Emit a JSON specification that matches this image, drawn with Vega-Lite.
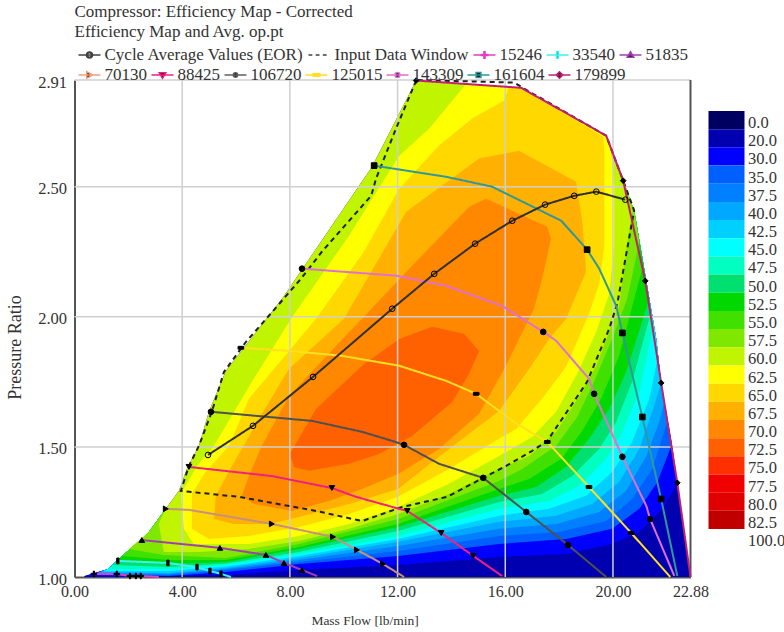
{"$schema":"https://vega.github.io/schema/vega-lite/v6.json","padding":{"left":6.5,"top":3,"right":0,"bottom":0},"background":"white","config":{"font":"Liberation Serif","view":{"stroke":null},"title":{"font":"Liberation Serif"}},"spacing":-7,"resolve":{"scale":{"color":"independent"}},
"datasets":{"c":[
{"l":20,"x":0.35,"y":1},{"l":20,"x":22.88,"y":1},{"l":20,"x":22.2,"y":1.504},{"l":20,"x":21.79,"y":1.746},{"l":20,"x":21.61,"y":1.915},{"l":20,"x":21.24,"y":2.138},{"l":20,"x":20.79,"y":2.408},{"l":20,"x":20.38,"y":2.523},{"l":20,"x":19.97,"y":2.62},{"l":20,"x":19.75,"y":2.696},{"l":20,"x":16.59,"y":2.88},{"l":20,"x":12.69,"y":2.908},{"l":20,"x":11.05,"y":2.577},{"l":20,"x":7.71,"y":2.069},{"l":20,"x":5.62,"y":1.792},{"l":20,"x":4.99,"y":1.635},{"l":20,"x":4.62,"y":1.504},{"l":20,"x":4.17,"y":1.415},{"l":20,"x":3.88,"y":1.331},{"l":20,"x":3.39,"y":1.262},{"l":20,"x":2.76,"y":1.173},{"l":20,"x":2.5,"y":1.146},{"l":20,"x":1.76,"y":1.081},{"l":20,"x":1.24,"y":1.031},{"l":20,"x":0.38,"y":1.004},
{"l":30,"x":1.65,"y":1},{"l":30,"x":5.62,"y":1.008},{"l":30,"x":8.34,"y":1.027},{"l":30,"x":12.02,"y":1.046},{"l":30,"x":15.77,"y":1.077},{"l":30,"x":18.26,"y":1.088},{"l":30,"x":19.97,"y":1.127},{"l":30,"x":20.98,"y":1.173},{"l":30,"x":21.83,"y":1.262},{"l":30,"x":22.39,"y":1.358},{"l":30,"x":22.2,"y":1.504},{"l":30,"x":21.79,"y":1.746},{"l":30,"x":21.61,"y":1.915},{"l":30,"x":21.24,"y":2.138},{"l":30,"x":20.79,"y":2.408},{"l":30,"x":20.38,"y":2.523},{"l":30,"x":15.77,"y":2.454},{"l":30,"x":4.62,"y":1.3},{"l":30,"x":3.39,"y":1.262},{"l":30,"x":2.76,"y":1.173},{"l":30,"x":2.5,"y":1.146},{"l":30,"x":1.76,"y":1.081},{"l":30,"x":1.24,"y":1.031},{"l":30,"x":0.38,"y":1.004},
{"l":35,"x":0.61,"y":1.008},{"l":35,"x":3.51,"y":1.004},{"l":35,"x":5.62,"y":1.019},{"l":35,"x":8.34,"y":1.05},{"l":35,"x":12.02,"y":1.081},{"l":35,"x":15.77,"y":1.127},{"l":35,"x":18.26,"y":1.146},{"l":35,"x":19.97,"y":1.185},{"l":35,"x":20.98,"y":1.262},{"l":35,"x":21.65,"y":1.365},{"l":35,"x":22.17,"y":1.504},{"l":35,"x":21.79,"y":1.746},{"l":35,"x":21.61,"y":1.915},{"l":35,"x":21.24,"y":2.138},{"l":35,"x":20.79,"y":2.408},{"l":35,"x":20.38,"y":2.523},{"l":35,"x":15.77,"y":2.454},{"l":35,"x":4.62,"y":1.3},{"l":35,"x":3.39,"y":1.262},{"l":35,"x":2.76,"y":1.173},{"l":35,"x":2.5,"y":1.146},{"l":35,"x":1.76,"y":1.081},{"l":35,"x":1.24,"y":1.031},
{"l":37.5,"x":0.75,"y":1.012},{"l":37.5,"x":3.51,"y":1.008},{"l":37.5,"x":5.62,"y":1.027},{"l":37.5,"x":8.34,"y":1.058},{"l":37.5,"x":12.02,"y":1.1},{"l":37.5,"x":15.77,"y":1.158},{"l":37.5,"x":18.0,"y":1.173},{"l":37.5,"x":19.75,"y":1.215},{"l":37.5,"x":20.71,"y":1.3},{"l":37.5,"x":21.46,"y":1.415},{"l":37.5,"x":22.02,"y":1.596},{"l":37.5,"x":21.79,"y":1.746},{"l":37.5,"x":21.61,"y":1.915},{"l":37.5,"x":21.24,"y":2.138},{"l":37.5,"x":20.79,"y":2.408},{"l":37.5,"x":20.38,"y":2.523},{"l":37.5,"x":15.77,"y":2.454},{"l":37.5,"x":4.62,"y":1.3},{"l":37.5,"x":3.39,"y":1.262},{"l":37.5,"x":2.76,"y":1.173},{"l":37.5,"x":2.5,"y":1.146},{"l":37.5,"x":1.76,"y":1.081},{"l":37.5,"x":1.24,"y":1.031},
{"l":40,"x":0.87,"y":1.015},{"l":40,"x":3.51,"y":1.012},{"l":40,"x":5.62,"y":1.031},{"l":40,"x":8.34,"y":1.065},{"l":40,"x":12.02,"y":1.119},{"l":40,"x":15.77,"y":1.185},{"l":40,"x":17.89,"y":1.204},{"l":40,"x":19.49,"y":1.25},{"l":40,"x":20.49,"y":1.331},{"l":40,"x":21.24,"y":1.465},{"l":40,"x":21.72,"y":1.596},{"l":40,"x":21.91,"y":1.673},{"l":40,"x":21.79,"y":1.746},{"l":40,"x":21.61,"y":1.915},{"l":40,"x":21.24,"y":2.138},{"l":40,"x":20.79,"y":2.408},{"l":40,"x":20.38,"y":2.523},{"l":40,"x":15.77,"y":2.454},{"l":40,"x":4.62,"y":1.3},{"l":40,"x":3.39,"y":1.262},{"l":40,"x":2.76,"y":1.173},{"l":40,"x":2.5,"y":1.146},{"l":40,"x":1.76,"y":1.081},{"l":40,"x":1.24,"y":1.031},
{"l":42.5,"x":0.98,"y":1.019},{"l":42.5,"x":3.51,"y":1.015},{"l":42.5,"x":5.62,"y":1.035},{"l":42.5,"x":8.34,"y":1.073},{"l":42.5,"x":12.02,"y":1.135},{"l":42.5,"x":15.77,"y":1.212},{"l":42.5,"x":17.89,"y":1.235},{"l":42.5,"x":19.23,"y":1.281},{"l":42.5,"x":20.23,"y":1.365},{"l":42.5,"x":20.98,"y":1.492},{"l":42.5,"x":21.53,"y":1.658},{"l":42.5,"x":21.79,"y":1.746},{"l":42.5,"x":21.61,"y":1.915},{"l":42.5,"x":21.24,"y":2.138},{"l":42.5,"x":20.79,"y":2.408},{"l":42.5,"x":20.38,"y":2.523},{"l":42.5,"x":15.77,"y":2.454},{"l":42.5,"x":4.62,"y":1.3},{"l":42.5,"x":3.39,"y":1.262},{"l":42.5,"x":2.76,"y":1.173},{"l":42.5,"x":2.5,"y":1.146},{"l":42.5,"x":1.76,"y":1.081},{"l":42.5,"x":1.24,"y":1.031},
{"l":45,"x":1.09,"y":1.023},{"l":45,"x":3.51,"y":1.023},{"l":45,"x":5.62,"y":1.04},{"l":45,"x":8.34,"y":1.081},{"l":45,"x":12.02,"y":1.146},{"l":45,"x":15.77,"y":1.235},{"l":45,"x":17.63,"y":1.262},{"l":45,"x":19.0,"y":1.312},{"l":45,"x":19.97,"y":1.404},{"l":45,"x":20.71,"y":1.519},{"l":45,"x":21.35,"y":1.685},{"l":45,"x":21.68,"y":1.85},{"l":45,"x":21.61,"y":1.915},{"l":45,"x":21.24,"y":2.138},{"l":45,"x":20.79,"y":2.408},{"l":45,"x":20.38,"y":2.523},{"l":45,"x":15.77,"y":2.454},{"l":45,"x":4.62,"y":1.3},{"l":45,"x":3.39,"y":1.262},{"l":45,"x":2.76,"y":1.173},{"l":45,"x":2.5,"y":1.146},{"l":45,"x":1.76,"y":1.081},{"l":45,"x":1.24,"y":1.031},
{"l":47.5,"x":1.28,"y":1.031},{"l":47.5,"x":3.51,"y":1.031},{"l":47.5,"x":5.62,"y":1.046},{"l":47.5,"x":8.34,"y":1.088},{"l":47.5,"x":12.02,"y":1.158},{"l":47.5,"x":15.77,"y":1.262},{"l":47.5,"x":17.63,"y":1.292},{"l":47.5,"x":18.75,"y":1.35},{"l":47.5,"x":19.75,"y":1.454},{"l":47.5,"x":20.35,"y":1.558},{"l":47.5,"x":20.98,"y":1.712},{"l":47.5,"x":21.5,"y":1.965},{"l":47.5,"x":21.24,"y":2.138},{"l":47.5,"x":20.79,"y":2.408},{"l":47.5,"x":20.38,"y":2.523},{"l":47.5,"x":15.77,"y":2.454},{"l":47.5,"x":4.62,"y":1.3},{"l":47.5,"x":3.39,"y":1.262},{"l":47.5,"x":2.76,"y":1.173},{"l":47.5,"x":2.5,"y":1.146},{"l":47.5,"x":1.76,"y":1.081},
{"l":50,"x":1.42,"y":1.046},{"l":50,"x":3.51,"y":1.038},{"l":50,"x":5.62,"y":1.052},{"l":50,"x":8.34,"y":1.096},{"l":50,"x":12.02,"y":1.177},{"l":50,"x":15.77,"y":1.288},{"l":50,"x":17.37,"y":1.319},{"l":50,"x":18.49,"y":1.388},{"l":50,"x":19.49,"y":1.492},{"l":50,"x":20.12,"y":1.596},{"l":50,"x":20.71,"y":1.75},{"l":50,"x":21.42,"y":2.019},{"l":50,"x":21.24,"y":2.138},{"l":50,"x":20.79,"y":2.408},{"l":50,"x":20.38,"y":2.523},{"l":50,"x":15.77,"y":2.454},{"l":50,"x":4.62,"y":1.3},{"l":50,"x":3.39,"y":1.262},{"l":50,"x":2.76,"y":1.173},{"l":50,"x":2.5,"y":1.146},{"l":50,"x":1.76,"y":1.081},
{"l":52.5,"x":1.57,"y":1.062},{"l":52.5,"x":3.51,"y":1.05},{"l":52.5,"x":5.62,"y":1.058},{"l":52.5,"x":8.34,"y":1.108},{"l":52.5,"x":12.02,"y":1.192},{"l":52.5,"x":15.77,"y":1.312},{"l":52.5,"x":17.15,"y":1.346},{"l":52.5,"x":18.26,"y":1.423},{"l":52.5,"x":19.11,"y":1.531},{"l":52.5,"x":19.86,"y":1.646},{"l":52.5,"x":20.49,"y":1.788},{"l":52.5,"x":21.35,"y":2.069},{"l":52.5,"x":21.24,"y":2.138},{"l":52.5,"x":20.79,"y":2.408},{"l":52.5,"x":20.38,"y":2.523},{"l":52.5,"x":15.77,"y":2.454},{"l":52.5,"x":4.62,"y":1.3},{"l":52.5,"x":3.39,"y":1.262},{"l":52.5,"x":2.76,"y":1.173},{"l":52.5,"x":2.5,"y":1.146},
{"l":55,"x":1.76,"y":1.081},{"l":55,"x":3.51,"y":1.065},{"l":55,"x":5.62,"y":1.065},{"l":55,"x":8.34,"y":1.115},{"l":55,"x":12.02,"y":1.204},{"l":55,"x":15.77,"y":1.338},{"l":55,"x":16.89,"y":1.377},{"l":55,"x":18.08,"y":1.454},{"l":55,"x":18.86,"y":1.562},{"l":55,"x":19.56,"y":1.685},{"l":55,"x":20.23,"y":1.85},{"l":55,"x":20.79,"y":2.069},{"l":55,"x":21.09,"y":2.185},{"l":55,"x":20.79,"y":2.408},{"l":55,"x":20.38,"y":2.523},{"l":55,"x":15.77,"y":2.454},{"l":55,"x":4.62,"y":1.3},{"l":55,"x":3.39,"y":1.262},{"l":55,"x":2.76,"y":1.173},{"l":55,"x":2.5,"y":1.146},
{"l":57.5,"x":2.02,"y":1.108},{"l":57.5,"x":3.32,"y":1.085},{"l":57.5,"x":5.62,"y":1.073},{"l":57.5,"x":8.34,"y":1.127},{"l":57.5,"x":12.02,"y":1.223},{"l":57.5,"x":15.77,"y":1.369},{"l":57.5,"x":16.63,"y":1.415},{"l":57.5,"x":17.89,"y":1.504},{"l":57.5,"x":18.67,"y":1.615},{"l":57.5,"x":19.23,"y":1.735},{"l":57.5,"x":19.97,"y":1.915},{"l":57.5,"x":20.53,"y":2.069},{"l":57.5,"x":20.98,"y":2.288},{"l":57.5,"x":20.79,"y":2.408},{"l":57.5,"x":20.38,"y":2.523},{"l":57.5,"x":15.77,"y":2.454},{"l":57.5,"x":4.62,"y":1.3},{"l":57.5,"x":3.39,"y":1.262},{"l":57.5,"x":2.76,"y":1.173},
{"l":60,"x":3.13,"y":1.204},{"l":60,"x":3.32,"y":1.096},{"l":60,"x":4.62,"y":1.096},{"l":60,"x":6.48,"y":1.108},{"l":60,"x":8.34,"y":1.138},{"l":60,"x":10.2,"y":1.185},{"l":60,"x":12.02,"y":1.242},{"l":60,"x":13.91,"y":1.319},{"l":60,"x":15.77,"y":1.415},{"l":60,"x":16.89,"y":1.465},{"l":60,"x":17.89,"y":1.558},{"l":60,"x":18.75,"y":1.696},{"l":60,"x":19.38,"y":1.812},{"l":60,"x":19.86,"y":1.942},{"l":60,"x":20.23,"y":2.042},{"l":60,"x":20.49,"y":2.25},{"l":60,"x":20.71,"y":2.404},{"l":60,"x":20.38,"y":2.523},{"l":60,"x":19.97,"y":2.62},{"l":60,"x":19.75,"y":2.696},{"l":60,"x":16.59,"y":2.88},{"l":60,"x":12.69,"y":2.908},{"l":60,"x":11.05,"y":2.577},{"l":60,"x":7.71,"y":2.069},{"l":60,"x":5.62,"y":1.792},{"l":60,"x":4.99,"y":1.635},{"l":60,"x":4.62,"y":1.504},{"l":60,"x":4.17,"y":1.415},{"l":60,"x":3.88,"y":1.331},{"l":60,"x":3.39,"y":1.262},
{"l":62.5,"x":3.95,"y":1.319},{"l":62.5,"x":4.06,"y":1.185},{"l":62.5,"x":4.43,"y":1.127},{"l":62.5,"x":6.48,"y":1.127},{"l":62.5,"x":8.34,"y":1.158},{"l":62.5,"x":10.2,"y":1.204},{"l":62.5,"x":12.02,"y":1.269},{"l":62.5,"x":13.91,"y":1.358},{"l":62.5,"x":15.77,"y":1.465},{"l":62.5,"x":17.0,"y":1.538},{"l":62.5,"x":17.89,"y":1.635},{"l":62.5,"x":18.67,"y":1.781},{"l":62.5,"x":19.38,"y":1.942},{"l":62.5,"x":19.86,"y":2.088},{"l":62.5,"x":20.05,"y":2.273},{"l":62.5,"x":20.05,"y":2.504},{"l":62.5,"x":19.93,"y":2.635},{"l":62.5,"x":19.86,"y":2.665},{"l":62.5,"x":19.75,"y":2.696},{"l":62.5,"x":16.59,"y":2.88},{"l":62.5,"x":14.55,"y":2.896},{"l":62.5,"x":13.17,"y":2.723},{"l":62.5,"x":12.06,"y":2.619},{"l":62.5,"x":10.2,"y":2.312},{"l":62.5,"x":8.04,"y":1.992},{"l":62.5,"x":6.59,"y":1.75},{"l":62.5,"x":5.18,"y":1.504},{"l":62.5,"x":4.55,"y":1.427},
{"l":65,"x":4.36,"y":1.319},{"l":65,"x":4.36,"y":1.185},{"l":65,"x":4.99,"y":1.146},{"l":65,"x":6.48,"y":1.158},{"l":65,"x":8.34,"y":1.192},{"l":65,"x":10.2,"y":1.242},{"l":65,"x":12.02,"y":1.308},{"l":65,"x":13.91,"y":1.415},{"l":65,"x":15.77,"y":1.531},{"l":65,"x":16.4,"y":1.569},{"l":65,"x":17.37,"y":1.685},{"l":65,"x":18.26,"y":1.808},{"l":65,"x":19.11,"y":2.012},{"l":65,"x":19.49,"y":2.127},{"l":65,"x":19.68,"y":2.273},{"l":65,"x":19.68,"y":2.635},{"l":65,"x":19.64,"y":2.692},{"l":65,"x":16.59,"y":2.88},{"l":65,"x":16.14,"y":2.885},{"l":65,"x":15.96,"y":2.831},{"l":65,"x":14.77,"y":2.762},{"l":65,"x":13.54,"y":2.658},{"l":65,"x":12.06,"y":2.492},{"l":65,"x":10.75,"y":2.25},{"l":65,"x":8.97,"y":1.992},{"l":65,"x":7.97,"y":1.869},{"l":65,"x":6.48,"y":1.685},{"l":65,"x":5.74,"y":1.504},{"l":65,"x":4.81,"y":1.396},
{"l":67.5,"x":5.25,"y":1.312},{"l":67.5,"x":5.18,"y":1.223},{"l":67.5,"x":5.92,"y":1.204},{"l":67.5,"x":7.22,"y":1.204},{"l":67.5,"x":8.34,"y":1.231},{"l":67.5,"x":10.2,"y":1.281},{"l":67.5,"x":12.02,"y":1.338},{"l":67.5,"x":13.91,"y":1.492},{"l":67.5,"x":15.77,"y":1.638},{"l":67.5,"x":16.89,"y":1.8},{"l":67.5,"x":17.63,"y":1.915},{"l":67.5,"x":18.26,"y":1.992},{"l":67.5,"x":19.0,"y":2.173},{"l":67.5,"x":18.86,"y":2.365},{"l":67.5,"x":18.63,"y":2.519},{"l":67.5,"x":16.51,"y":2.638},{"l":67.5,"x":15.03,"y":2.608},{"l":67.5,"x":12.32,"y":2.404},{"l":67.5,"x":10.01,"y":1.992},{"l":67.5,"x":7.97,"y":1.8},{"l":67.5,"x":6.85,"y":1.608},{"l":67.5,"x":5.85,"y":1.427},
{"l":70,"x":6.22,"y":1.312},{"l":70,"x":6.67,"y":1.281},{"l":70,"x":8.08,"y":1.254},{"l":70,"x":9.45,"y":1.292},{"l":70,"x":10.68,"y":1.338},{"l":70,"x":12.02,"y":1.396},{"l":70,"x":13.54,"y":1.492},{"l":70,"x":15.03,"y":1.627},{"l":70,"x":16.03,"y":1.812},{"l":70,"x":16.51,"y":1.915},{"l":70,"x":17.07,"y":2.031},{"l":70,"x":17.37,"y":2.146},{"l":70,"x":17.7,"y":2.3},{"l":70,"x":17.56,"y":2.346},{"l":70,"x":15.29,"y":2.454},{"l":70,"x":14.66,"y":2.423},{"l":70,"x":12.54,"y":2.196},{"l":70,"x":10.68,"y":1.992},{"l":70,"x":10.2,"y":1.942},{"l":70,"x":7.97,"y":1.696},{"l":70,"x":6.96,"y":1.504},{"l":70,"x":6.48,"y":1.388},
{"l":72.5,"x":8.0,"y":1.473},{"l":72.5,"x":8.97,"y":1.646},{"l":72.5,"x":10.68,"y":1.812},{"l":72.5,"x":12.06,"y":1.915},{"l":72.5,"x":13.28,"y":1.962},{"l":72.5,"x":14.47,"y":1.935},{"l":72.5,"x":15.03,"y":1.869},{"l":72.5,"x":14.66,"y":1.781},{"l":72.5,"x":14.03,"y":1.673},{"l":72.5,"x":12.54,"y":1.542},{"l":72.5,"x":11.31,"y":1.473},{"l":72.5,"x":10.2,"y":1.435},{"l":72.5,"x":8.71,"y":1.408},{"l":72.5,"x":8.15,"y":1.423}
],"s":[
{"s":"Input Data Window","x":12.69,"y":2.908,"m":0},{"s":"Input Data Window","x":11.94,"y":2.723,"m":0},{"s":"Input Data Window","x":11.2,"y":2.531,"m":0},{"s":"Input Data Window","x":11.02,"y":2.465,"m":0},{"s":"Input Data Window","x":9.19,"y":2.25,"m":0},{"s":"Input Data Window","x":8.41,"y":2.146,"m":0},{"s":"Input Data Window","x":7.22,"y":2.004,"m":0},{"s":"Input Data Window","x":6.37,"y":1.904,"m":0},{"s":"Input Data Window","x":5.55,"y":1.788,"m":0},{"s":"Input Data Window","x":5.1,"y":1.635,"m":0},{"s":"Input Data Window","x":4.62,"y":1.504,"m":0},{"s":"Input Data Window","x":4.25,"y":1.427,"m":0},{"s":"Input Data Window","x":3.95,"y":1.331,"m":0},{"s":"Input Data Window","x":6.11,"y":1.308,"m":0},{"s":"Input Data Window","x":8.97,"y":1.254,"m":0},{"s":"Input Data Window","x":10.68,"y":1.215,"m":0},{"s":"Input Data Window","x":12.17,"y":1.269,"m":0},{"s":"Input Data Window","x":13.84,"y":1.308,"m":0},{"s":"Input Data Window","x":15.18,"y":1.381,"m":0},{"s":"Input Data Window","x":15.96,"y":1.423,"m":0},{"s":"Input Data Window","x":17.0,"y":1.485,"m":0},{"s":"Input Data Window","x":17.56,"y":1.523,"m":0},{"s":"Input Data Window","x":19.04,"y":1.75,"m":0},{"s":"Input Data Window","x":19.86,"y":1.954,"m":0},{"s":"Input Data Window","x":20.16,"y":2.05,"m":0},{"s":"Input Data Window","x":20.71,"y":2.365,"m":0},{"s":"Input Data Window","x":20.79,"y":2.408,"m":0},{"s":"Input Data Window","x":20.38,"y":2.523,"m":0},{"s":"Input Data Window","x":19.75,"y":2.696,"m":0},{"s":"Input Data Window","x":16.7,"y":2.877,"m":0},{"s":"Input Data Window","x":16.33,"y":2.9,"m":0},{"s":"Input Data Window","x":12.69,"y":2.91,"m":0},
{"s":"15246","x":0.72,"y":1.012,"m":1},{"s":"15246","x":1.57,"y":1.012,"m":1},{"s":"15246","x":2.06,"y":1.004,"m":1},{"s":"15246","x":2.28,"y":1.004,"m":1},{"s":"15246","x":2.46,"y":1.004,"m":1},{"s":"15246","x":3.13,"y":1,"m":0},
{"s":"33540","x":1.61,"y":1.062,"m":1},{"s":"33540","x":3.47,"y":1.054,"m":1},{"s":"33540","x":4.55,"y":1.038,"m":1},{"s":"33540","x":5.03,"y":1.023,"m":1},{"s":"33540","x":5.44,"y":1.012,"m":1},{"s":"33540","x":5.81,"y":1,"m":0},
{"s":"51835","x":2.5,"y":1.142,"m":1},{"s":"51835","x":5.4,"y":1.112,"m":1},{"s":"51835","x":7.11,"y":1.085,"m":1},{"s":"51835","x":7.78,"y":1.054,"m":1},{"s":"51835","x":8.45,"y":1.027,"m":1},{"s":"51835","x":9.01,"y":1.004,"m":0},
{"s":"70130","x":3.39,"y":1.262,"m":1},{"s":"70130","x":4.25,"y":1.258,"m":0},{"s":"70130","x":7.33,"y":1.204,"m":1},{"s":"70130","x":9.6,"y":1.154,"m":1},{"s":"70130","x":10.49,"y":1.104,"m":1},{"s":"70130","x":11.46,"y":1.05,"m":1},{"s":"70130","x":12.24,"y":1,"m":0},
{"s":"88425","x":4.25,"y":1.423,"m":1},{"s":"88425","x":7.33,"y":1.388,"m":0},{"s":"88425","x":9.56,"y":1.342,"m":1},{"s":"88425","x":10.46,"y":1.308,"m":0},{"s":"88425","x":12.06,"y":1.262,"m":0},{"s":"88425","x":12.36,"y":1.254,"m":1},{"s":"88425","x":13.62,"y":1.169,"m":1},{"s":"88425","x":14.81,"y":1.081,"m":1},{"s":"88425","x":15.88,"y":1.004,"m":0},
{"s":"106720","x":5.07,"y":1.635,"m":1},{"s":"106720","x":8.82,"y":1.6,"m":0},{"s":"106720","x":10.68,"y":1.558,"m":0},{"s":"106720","x":11.8,"y":1.523,"m":0},{"s":"106720","x":12.24,"y":1.508,"m":1},{"s":"106720","x":13.54,"y":1.435,"m":0},{"s":"106720","x":15.18,"y":1.381,"m":1},{"s":"106720","x":16.78,"y":1.25,"m":1},{"s":"106720","x":18.33,"y":1.123,"m":1},{"s":"106720","x":19.75,"y":1,"m":0},
{"s":"125015","x":6.18,"y":1.881,"m":1},{"s":"125015","x":7.97,"y":1.869,"m":0},{"s":"125015","x":9.93,"y":1.85,"m":0},{"s":"125015","x":12.06,"y":1.812,"m":0},{"s":"125015","x":13.8,"y":1.754,"m":0},{"s":"125015","x":14.92,"y":1.704,"m":1},{"s":"125015","x":15.51,"y":1.658,"m":0},{"s":"125015","x":16.44,"y":1.588,"m":0},{"s":"125015","x":17.56,"y":1.519,"m":1},{"s":"125015","x":19.11,"y":1.346,"m":1},{"s":"125015","x":20.68,"y":1.169,"m":1},{"s":"125015","x":22.13,"y":1,"m":0},
{"s":"143309","x":8.45,"y":2.185,"m":1},{"s":"143309","x":11.94,"y":2.158,"m":0},{"s":"143309","x":13.8,"y":2.119,"m":0},{"s":"143309","x":15.88,"y":2.042,"m":0},{"s":"143309","x":17.41,"y":1.942,"m":1},{"s":"143309","x":17.89,"y":1.908,"m":0},{"s":"143309","x":19.11,"y":1.762,"m":0},{"s":"143309","x":19.3,"y":1.704,"m":1},{"s":"143309","x":20.35,"y":1.462,"m":1},{"s":"143309","x":21.24,"y":1.273,"m":0},{"s":"143309","x":21.38,"y":1.223,"m":1},{"s":"143309","x":22.28,"y":1.004,"m":0},
{"s":"161604","x":11.13,"y":2.581,"m":1},{"s":"161604","x":13.8,"y":2.538,"m":0},{"s":"161604","x":15.51,"y":2.5,"m":0},{"s":"161604","x":18.08,"y":2.369,"m":0},{"s":"161604","x":19.04,"y":2.258,"m":1},{"s":"161604","x":19.49,"y":2.185,"m":0},{"s":"161604","x":20.12,"y":2.042,"m":0},{"s":"161604","x":20.35,"y":1.938,"m":1},{"s":"161604","x":21.09,"y":1.615,"m":1},{"s":"161604","x":21.79,"y":1.3,"m":1},{"s":"161604","x":22.39,"y":1.004,"m":0},
{"s":"179899","x":12.69,"y":2.908,"m":1},{"s":"179899","x":16.59,"y":2.88,"m":0},{"s":"179899","x":19.75,"y":2.696,"m":0},{"s":"179899","x":20.38,"y":2.523,"m":1},{"s":"179899","x":21.2,"y":2.138,"m":1},{"s":"179899","x":21.79,"y":1.746,"m":1},{"s":"179899","x":22.39,"y":1.362,"m":1},{"s":"179899","x":22.88,"y":1,"m":0},
{"s":"Cycle Average Values (EOR)","x":4.96,"y":1.469,"m":1},{"s":"Cycle Average Values (EOR)","x":6.63,"y":1.581,"m":1},{"s":"Cycle Average Values (EOR)","x":8.86,"y":1.769,"m":1},{"s":"Cycle Average Values (EOR)","x":11.8,"y":2.031,"m":1},{"s":"Cycle Average Values (EOR)","x":13.36,"y":2.165,"m":1},{"s":"Cycle Average Values (EOR)","x":14.88,"y":2.281,"m":1},{"s":"Cycle Average Values (EOR)","x":16.26,"y":2.369,"m":1},{"s":"Cycle Average Values (EOR)","x":17.48,"y":2.431,"m":1},{"s":"Cycle Average Values (EOR)","x":18.56,"y":2.465,"m":1},{"s":"Cycle Average Values (EOR)","x":19.38,"y":2.481,"m":1},{"s":"Cycle Average Values (EOR)","x":20.46,"y":2.45,"m":1}
]},
"hconcat":[
{"width":616,"height":497,
"title":{"text":["Compressor: Efficiency Map - Corrected","Efficiency Map and Avg. op.pt"],"anchor":"start","frame":"group","fontSize":17,"fontWeight":"normal","color":"#333","lineHeight":20,"offset":2,"font":"Liberation Serif"},
"resolve":{"scale":{"shape":"independent"}},
"layer":[
{"data":{"name":"c"},"mark":{"type":"line","stroke":null,"order":false,"clip":true},"encoding":{
"x":{"field":"x","type":"quantitative","scale":{"domain":[0,22.88],"nice":false,"zero":false},"axis":{"values":[0,4,8,12,16,20,22.88],"format":".2f","grid":false,"ticks":false,"labelFont":"Liberation Serif","labelFontSize":16,"labelColor":"#333","labelPadding":6,"title":"Mass Flow [lb/min]","titleFont":"Liberation Serif","titleFontSize":13.5,"titleFontWeight":"normal","titleColor":"#333","titlePadding":14,"titleX":290,"domainColor":"#555","domainWidth":2,"labelFlush":false}},
"y":{"field":"y","type":"quantitative","scale":{"domain":[1,2.91],"nice":false,"zero":false},"axis":{"values":[1,1.5,2,2.5,2.91],"format":".2f","grid":false,"ticks":false,"labelFont":"Liberation Serif","labelFontSize":16.5,"labelColor":"#333","labelPadding":8,"labelOffset":2,"title":"Pressure Ratio","titleFont":"Liberation Serif","titleFontSize":18,"titleFontWeight":"normal","titleColor":"#333","titlePadding":13,"titleY":267,"domainColor":"#555","domainWidth":2}},
"fill":{"field":"l","type":"nominal","legend":null,"scale":{"domain":[20,30,35,37.5,40,42.5,45,47.5,50,52.5,55,57.5,60,62.5,65,67.5,70,72.5],"range":["#0000b0","#0000ff","#0060ff","#0080ff","#00a8ff","#00d0ff","#00ffff","#00ffc0","#00e070","#00d800","#40e000","#80e800","#c0f400","#ffff00","#ffd800","#ffb000","#ff8800","#ff6000"]}}}},
{"data":{"values":[{"v":4},{"v":8},{"v":12},{"v":16},{"v":20}]},"mark":{"type":"rule","color":"#cfcfcf","strokeWidth":1.5},"encoding":{"x":{"field":"v","type":"quantitative"}}},
{"data":{"values":[{"v":1.5},{"v":2},{"v":2.5},{"v":2.91}]},"mark":{"type":"rule","color":"#cfcfcf","strokeWidth":1.5},"encoding":{"y":{"field":"v","type":"quantitative"}}},
{"data":{"values":[{"v":22.88}]},"mark":{"type":"rule","color":"#555","strokeWidth":2},"encoding":{"x":{"field":"v","type":"quantitative"}}},
{"data":{"name":"s"},"mark":{"type":"line","order":false},"encoding":{
"x":{"field":"x","type":"quantitative"},"y":{"field":"y","type":"quantitative"},
"stroke":{"field":"s","type":"nominal","legend":null,"scale":{"domain":["Cycle Average Values (EOR)","Input Data Window","15246","33540","51835","70130","88425","106720","125015","143309","161604","179899"],"range":["#303030","#202020","#e040c0","#40f0f0","#a040b0","#c89080","#f02080","#505050","#ffe020","#e070d0","#309898","#c02070"]}},
"strokeWidth":{"field":"s","type":"nominal","legend":null,"scale":{"domain":["Cycle Average Values (EOR)","Input Data Window","15246","33540","51835","70130","88425","106720","125015","143309","161604","179899"],"range":[2,2,1.5,1.5,1.5,1.5,1.5,1.5,1.5,1.5,1.5,1.5]}},
"strokeDash":{"field":"s","type":"nominal","legend":null,"scale":{"domain":["Cycle Average Values (EOR)","Input Data Window","15246","33540","51835","70130","88425","106720","125015","143309","161604","179899"],"range":[[1,0],[5,4],[1,0],[1,0],[1,0],[1,0],[1,0],[1,0],[1,0],[1,0],[1,0],[1,0]]}}}},
{"data":{"name":"s"},"transform":[{"filter":"datum.m==1"}],"mark":{"type":"point","filled":true,"size":32,"strokeWidth":1,"stroke":"black","opacity":1},"encoding":{
"x":{"field":"x","type":"quantitative"},"y":{"field":"y","type":"quantitative"},
"color":{"field":"s","type":"nominal","legend":null,"scale":{"domain":["Cycle Average Values (EOR)","15246","33540","51835","70130","88425","106720","125015","143309","161604","179899"],"range":["transparent","black","black","black","black","black","black","black","black","black","black"]}},
"shape":{"field":"s","type":"nominal","legend":null,"scale":{"domain":["Cycle Average Values (EOR)","15246","33540","51835","70130","88425","106720","125015","143309","161604","179899"],"range":["circle","M-1,-.2H-.2V-1H.2V-.2H1V.2H.2V1H-.2V.2H-1Z","M-.4,-1H.4V1H-.4Z","triangle-up","triangle-right","triangle-down","circle","M-1,-.5H1V.5H-1Z","circle","square","diamond"]}}}},
{"data":{"name":"s"},"transform":[{"filter":{"field":"s","oneOf":["Cycle Average Values (EOR)","Input Data Window","15246","33540","51835"]}}],"mark":{"type":"point","opacity":0},"encoding":{
"x":{"field":"x","type":"quantitative"},"y":{"field":"y","type":"quantitative"},
"shape":{"field":"s","type":"nominal","title":null,"scale":{"domain":["Cycle Average Values (EOR)","Input Data Window","15246","33540","51835"],"range":["M-1,0H1M-.28,0A.28,.28 0 1,0 .28,0A.28,.28 0 1,0 -.28,0ZM-.2,0A.2,.2 0 1,1 .2,0A.2,.2 0 1,1 -.2,0Z","M-1,0H-.65M-.35,0H0M.3,0H.65","M-1,0H1M-.3,-.05H-.05V-.3H.05V-.05H.3V.05H.05V.3H-.05V.05H-.3Z","M-1,0H1M-.08,-.3H.08V.3H-.08Z","M-1,0H1M0,-.3L.3,.2H-.3Z"]},
"legend":{"orient":"none","legendX":3,"legendY":-37,"columns":5,"direction":"horizontal","columnPadding":1,"symbolSize":484,"symbolOpacity":1,"labelFont":"Liberation Serif","labelFontSize":17,"labelColor":"#333","labelOffset":3,"labelLimit":300,"encoding":{"symbols":{"fill":{"value":"black"},"strokeWidth":{"value":1.5},"stroke":{"value":{"expr":"{'Cycle Average Values (EOR)':'#404040','Input Data Window':'#404040','15246':'#e040c0','33540':'#40f0f0','51835':'#a040b0'}[datum.value]"}}}}}}}},
{"data":{"name":"s"},"transform":[{"filter":{"field":"s","oneOf":["70130","88425","106720","125015","143309","161604","179899"]}}],"mark":{"type":"point","opacity":0},"encoding":{
"x":{"field":"x","type":"quantitative"},"y":{"field":"y","type":"quantitative"},
"shape":{"field":"s","type":"nominal","title":null,"scale":{"domain":["70130","88425","106720","125015","143309","161604","179899"],"range":["M-1,0H1M-.25,-.3L.3,0L-.25,.3Z","M-1,0H1M0,.3L-.3,-.2H.3Z","M-1,0H1M-.2,0A.2,.2 0 1,0 .2,0A.2,.2 0 1,0 -.2,0Z","M-1,0H1M-.3,-.12H.3V.12H-.3Z","M-1,0H1M-.22,0A.22,.22 0 1,0 .22,0A.22,.22 0 1,0 -.22,0Z","M-1,0H1M-.22,-.22H.22V.22H-.22Z","M-1,0H1M0,-.3L.3,0L0,.3L-.3,0Z"]},
"legend":{"orient":"none","legendX":3,"legendY":-17,"columns":7,"direction":"horizontal","columnPadding":1,"symbolSize":484,"symbolOpacity":1,"labelFont":"Liberation Serif","labelFontSize":17,"labelColor":"#333","labelOffset":3,"labelLimit":300,"encoding":{"symbols":{"fill":{"value":"black"},"strokeWidth":{"value":1.5},"stroke":{"value":{"expr":"{'70130':'#f0a080','88425':'#f02080','106720':'#606060','125015':'#ffe020','143309':'#e070d0','161604':'#309898','179899':'#c02070'}[datum.value]"}}}}}}}}
]},
{"width":36,"height":497,"data":{"values":[{"a":"0.0"},{"a":"20.0"},{"a":"30.0"},{"a":"35.0"},{"a":"37.5"},{"a":"40.0"},{"a":"42.5"},{"a":"45.0"},{"a":"47.5"},{"a":"50.0"},{"a":"52.5"},{"a":"55.0"},{"a":"57.5"},{"a":"60.0"},{"a":"62.5"},{"a":"65.0"},{"a":"67.5"},{"a":"70.0"},{"a":"72.5"},{"a":"75.0"},{"a":"77.5"},{"a":"80.0"},{"a":"82.5"},{"a":"100.0"}]},
"mark":{"type":"rect"},"encoding":{
"y":{"field":"a","type":"ordinal","sort":null,"scale":{"type":"band","domain":["0.0","20.0","30.0","35.0","37.5","40.0","42.5","45.0","47.5","50.0","52.5","55.0","57.5","60.0","62.5","65.0","67.5","70.0","72.5","75.0","77.5","80.0","82.5","100.0"],"range":[31,467.2],"paddingInner":0,"paddingOuter":0},"axis":{"orient":"right","title":null,"ticks":false,"domain":false,"bandPosition":0,"labelFont":"Liberation Serif","labelFontSize":16.5,"labelColor":"#333","labelPadding":3,"labelBaseline":"middle","labelOffset":3}},
"color":{"field":"a","type":"ordinal","legend":null,"scale":{"domain":["0.0","20.0","30.0","35.0","37.5","40.0","42.5","45.0","47.5","50.0","52.5","55.0","57.5","60.0","62.5","65.0","67.5","70.0","72.5","75.0","77.5","80.0","82.5","100.0"],"range":["#000060","#0000b0","#0000ff","#0060ff","#0080ff","#00a8ff","#00d0ff","#00ffff","#00ffc0","#00e070","#00d800","#40e000","#80e800","#c0f400","#ffff00","#ffd800","#ffb000","#ff8800","#ff6000","#ff3000","#f00000","#e00000","#c00000","transparent"]}}}}
]}
